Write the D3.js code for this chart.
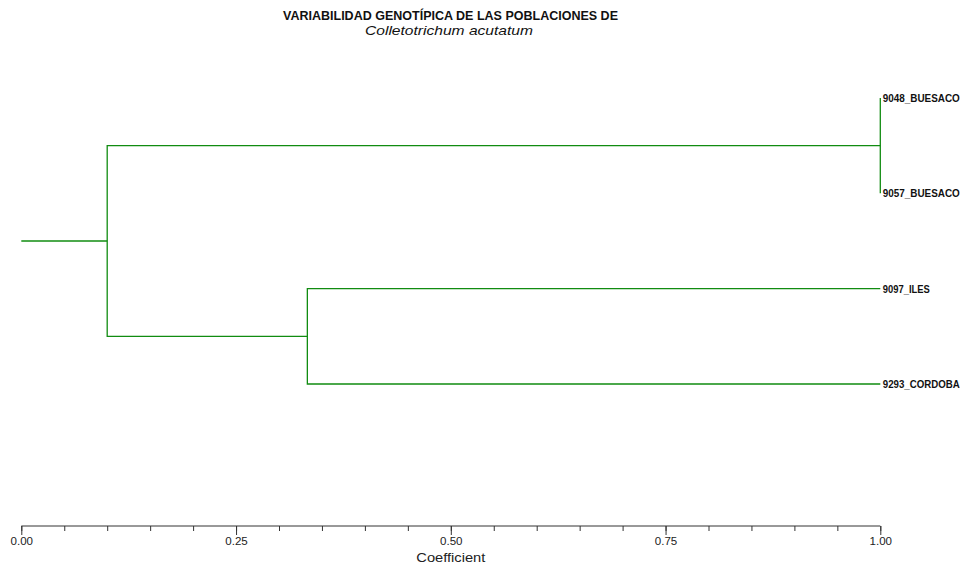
<!DOCTYPE html>
<html>
<head>
<meta charset="utf-8">
<script src="https://cdn.jsdelivr.net/npm/d3@7"></script>
<style>
  body { margin: 0; background: #fff; }
  svg { display: block; }
  .lbl { font-family: "Liberation Sans", Arial, sans-serif; }
</style>
</head>
<body>
<svg id="chart"></svg>
<script>
// leaves, top to bottom
var leafNames = ["9048_BUESACO", "9057_BUESACO", "9097_ILES", "9293_CORDOBA"];
// linkage: cluster ids 0..3 are leaves, 4.. are merges in order
var mergeA = [0, 2, 4];
var mergeB = [1, 3, 5];
var mergeLevel = [1.00, 0.333, 0.10];
var rootLevel = 0.0;
var leafLevel = 1.0;

var majorTicks = [0, 0.25, 0.5, 0.75, 1];
var minorTicks = d3.range(0, 1.0001, 0.05);

var width = 965, height = 567;
var lineColor = "#118c11";

var x = d3.scaleLinear().domain([0, 1]).range([21.3, 880.3]);
var y = d3.scaleLinear().domain([0, leafNames.length - 1]).range([98, 384]);

var svg = d3.select("#chart").attr("width", width).attr("height", height);

// nodes
var nodes = leafNames.map(function (n, i) {
    return { name: n, x: x(leafLevel), y: y(i) };
});
mergeA.forEach(function (a, i) {
    var b = mergeB[i];
    nodes.push({ x: x(mergeLevel[i]), y: (nodes[a].y + nodes[b].y) / 2, kids: [a, b] });
});
var root = nodes[nodes.length - 1];

var tree = svg.append("g")
    .attr("fill", "none")
    .attr("stroke", lineColor)
    .attr("stroke-width", 1.3);

nodes.forEach(function (nd) {
    if (!nd.kids) return;
    var c0 = nodes[nd.kids[0]], c1 = nodes[nd.kids[1]];
    tree.append("path")
        .attr("d", "M" + c0.x + "," + c0.y + "H" + nd.x + "V" + c1.y + "H" + c1.x);
});
// root stub
tree.append("path").attr("d", "M" + x(rootLevel) + "," + root.y + "H" + root.x);

// leaf labels
var labelW = { "9048_BUESACO": 77, "9057_BUESACO": 77, "9097_ILES": 47, "9293_CORDOBA": 77 };
svg.append("g").selectAll("text")
    .data(leafNames)
    .enter().append("text")
    .attr("class", "lbl")
    .attr("x", x(leafLevel) + 2.5)
    .attr("y", function (d, i) { return y(i) + 4; })
    .attr("font-size", 10.2)
    .attr("font-weight", "bold")
    .attr("fill", "#111")
    .attr("textLength", function (d) { return labelW[d]; })
    .attr("lengthAdjust", "spacingAndGlyphs")
    .text(function (d) { return d; });

// axis
var axisY = 526;
var axis = svg.append("g").attr("transform", "translate(0," + axisY + ")");
axis.append("g")
    .call(d3.axisBottom(x).tickValues(minorTicks).tickSize(5).tickFormat(""))
    .call(function (g) { g.select(".domain").remove(); })
    .selectAll("line").attr("stroke", "#333");
var major = axis.append("g")
    .call(d3.axisBottom(x).tickValues(majorTicks).tickSize(9).tickSizeOuter(0).tickPadding(2)
        .tickFormat(d3.format(".2f")));
major.select(".domain").attr("stroke", "#333").attr("d", "M" + x(0) + ",0H" + x(1));
major.selectAll("line").attr("stroke", "#333");
major.selectAll("text")
    .attr("class", "lbl")
    .attr("font-size", 11)
    .attr("fill", "#222")
    .attr("textLength", 22.5)
    .attr("lengthAdjust", "spacingAndGlyphs");

svg.append("text")
    .attr("class", "lbl")
    .attr("x", x(0.5))
    .attr("y", 561.5)
    .attr("text-anchor", "middle")
    .attr("font-size", 13)
    .attr("fill", "#222")
    .attr("textLength", 69)
    .attr("lengthAdjust", "spacingAndGlyphs")
    .text("Coefficient");

// title
svg.append("text")
    .attr("class", "lbl")
    .attr("x", 450.5)
    .attr("y", 20)
    .attr("text-anchor", "middle")
    .attr("font-size", 12.5)
    .attr("font-weight", "bold")
    .attr("fill", "#111")
    .attr("textLength", 335)
    .attr("lengthAdjust", "spacingAndGlyphs")
    .text("VARIABILIDAD GENOTÍPICA DE LAS POBLACIONES DE");
svg.append("text")
    .attr("class", "lbl")
    .attr("x", 449)
    .attr("y", 34.5)
    .attr("text-anchor", "middle")
    .attr("font-size", 13)
    .attr("font-style", "italic")
    .attr("fill", "#111")
    .attr("textLength", 168)
    .attr("lengthAdjust", "spacingAndGlyphs")
    .text("Colletotrichum acutatum");
</script>
</body>
</html>
